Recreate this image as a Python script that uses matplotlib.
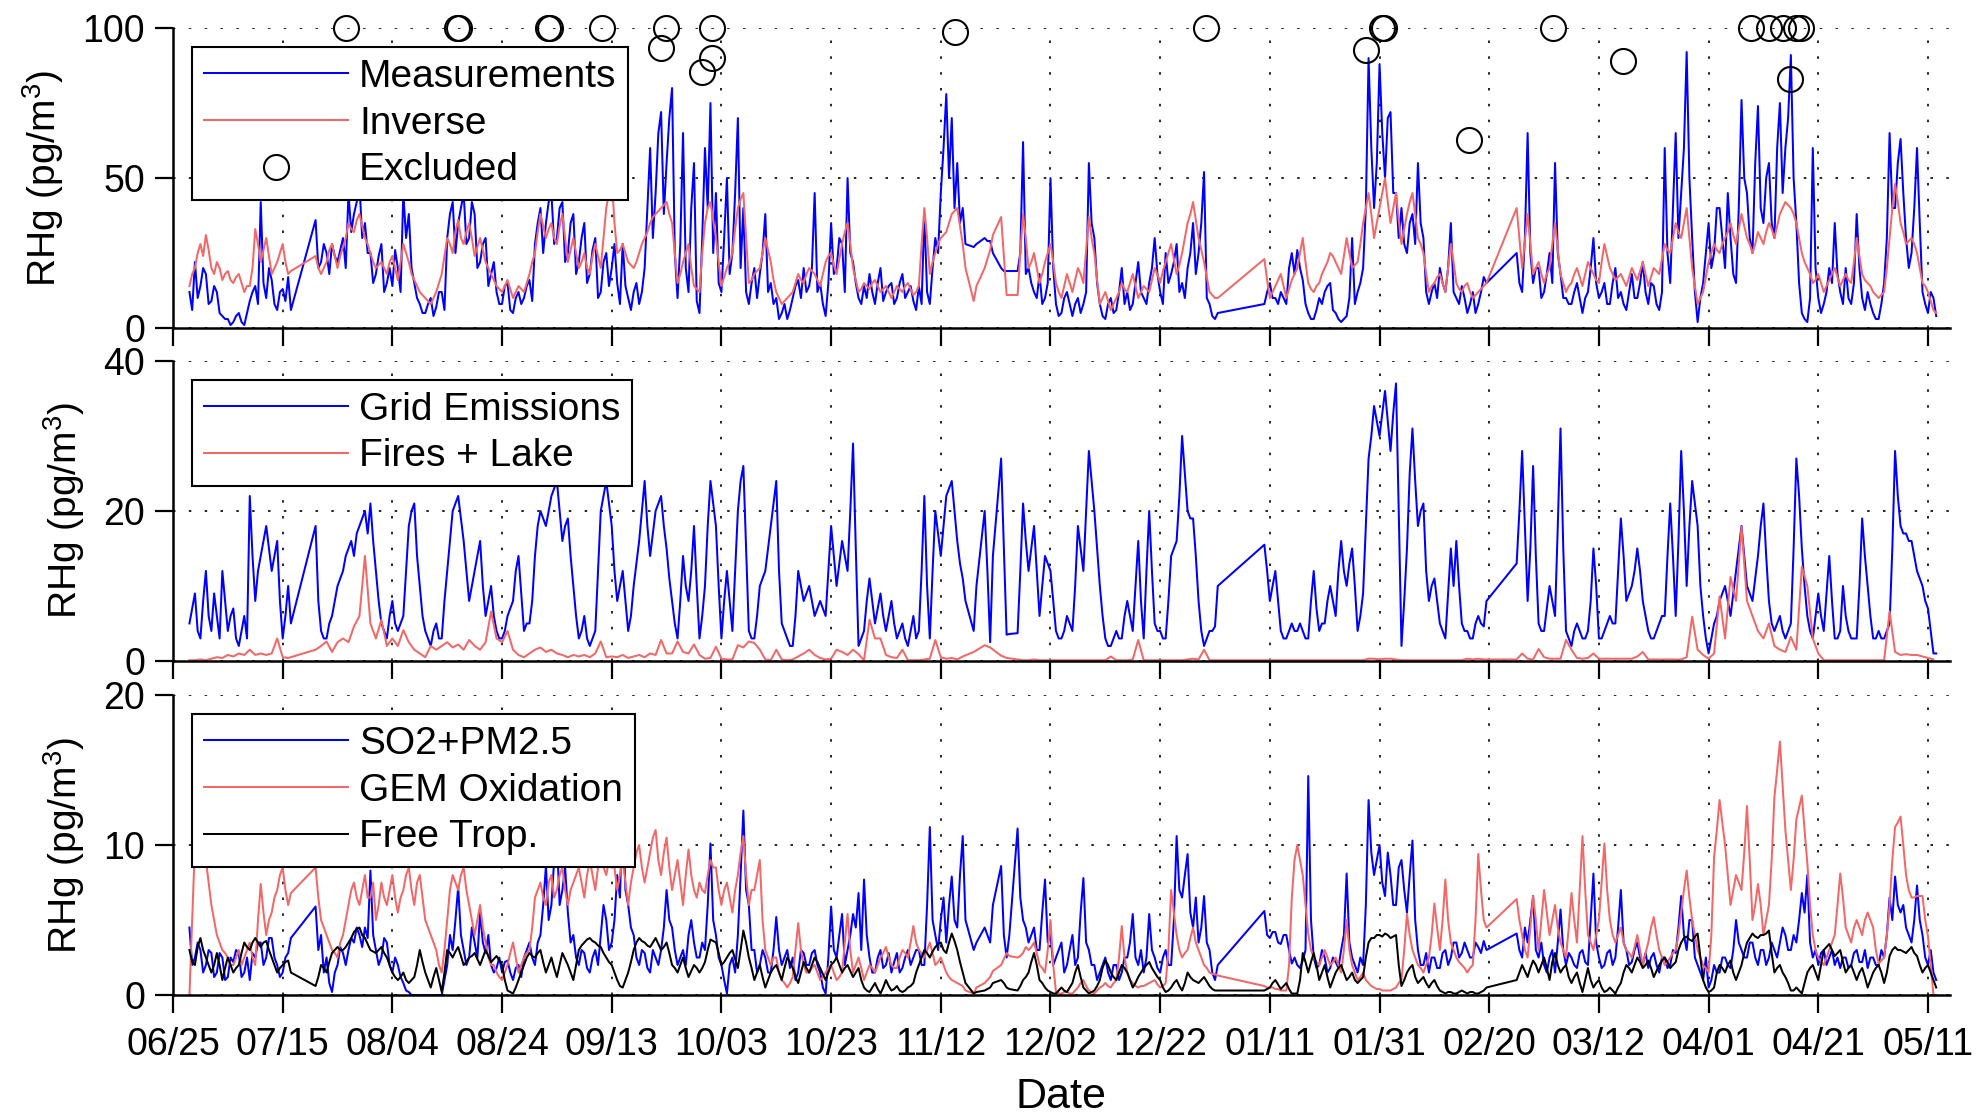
import numpy as np
import pandas as pd
import matplotlib
matplotlib.use("Agg")
import matplotlib.pyplot as plt
import matplotlib.dates as mdates

plt.rcParams["font.family"] = ["Liberation Sans", "DejaVu Sans"]
plt.rcParams["mathtext.fontset"] = "custom"
plt.rcParams["mathtext.rm"] = "Liberation Sans"
plt.rcParams["mathtext.it"] = "Liberation Sans:italic"

START = pd.Timestamp("2012-06-25")

# ----- sample days (days after 06/25), data gaps are left out -----
sparse_days = [146, 148, 149, 151, 152]
sample_days = np.concatenate([
    np.arange(3, 22), np.arange(26, 145), sparse_days,
    np.arange(154, 191), np.arange(199, 240), np.arange(245, 322),
])

# ----- panel 1 (morning / evening readings) -----
measurements = [
    12, 22, 14, 18, 9, 12, 4, 3, 2, 5,          # d3-12
    1, 9, 14, 42, 10, 16, 6, 13, 17,            # d13-21
    36, 22, 25, 28, 22, 30, 45, 38, 48, 35,     # d26-35
    25, 18, 28, 15, 14, 20, 45, 38, 15, 8,      # d36-45
    5, 10, 7, 12, 30, 42, 35, 45, 30, 38,       # d46-55
    22, 30, 18, 12, 8, 15, 5, 12, 10, 16,       # d56-65
    28, 40, 35, 45, 30, 42, 25, 38, 22, 35,     # d66-75
    18, 30, 12, 25, 20, 15, 28, 10, 12, 8,      # d76-85
    20, 60, 45, 72, 55, 80, 10, 65, 12, 55,     # d86-95
    5, 60, 75, 45, 12, 50, 25, 70, 40, 8,       # d96-105
    20, 18, 38, 15, 10, 5, 3, 10, 16, 20,       # d106-115
    14, 45, 15, 4, 35, 20, 28, 50, 22, 10,      # d116-125
    14, 18, 8, 20, 12, 15, 10, 18, 12, 9,       # d126-135
    14, 38, 8, 30, 45, 78, 70, 55, 40,          # d136-144
    27, 30, 29, 20, 19,                         # sparse
    19, 62, 20, 12, 18, 10, 50, 8, 5, 12,       # d154-163
    4, 10, 8, 55, 30, 8, 3, 10, 6, 20,          # d164-173
    12, 8, 22, 10, 15, 30, 12, 25, 18, 28,      # d174-183
    15, 20, 35, 25, 52, 8, 3,                   # d184-190
    8, 15, 10, 12, 8, 25, 26, 16, 5, 3,         # d199-208
    10, 12, 15, 5, 2, 4, 30, 12, 20, 90,        # d209-218
    40, 88, 50, 72, 45, 40, 25, 38, 55, 30,     # d219-228
    8, 15, 20, 12, 35, 10, 14, 5, 12, 8, 17,    # d229-239
    25, 12, 65, 15, 20, 12, 25, 55, 18, 10,     # d245-254
    8, 15, 5, 12, 30, 10, 15, 8, 20, 12,        # d255-264
    6, 18, 10, 22, 8, 14, 6, 60, 15, 65,        # d265-274
    45, 92, 30, 2, 15, 35, 25, 40, 20, 30,      # d275-284
    15, 76, 45, 25, 74, 35, 55, 30, 75, 60,     # d285-294
    91, 35, 5, 2, 60, 10, 8, 20, 35, 12,        # d295-304
    20, 8, 38, 10, 12, 5, 3, 15, 65, 40,        # d305-314
    63, 30, 25, 60, 12, 5, 10,                  # d315-321
]
measurements_pm = [
    6, 10, 20, 8, 14, 5, 3, 1, 4, 2,
    5, 12, 8, 15, 20, 8, 12, 9, 6,
    20, 28, 18, 24, 26, 20, 32, 42, 30, 25,
    15, 24, 12, 20, 26, 12, 30, 20, 10, 5,
    8, 4, 12, 6, 38, 25, 40, 28, 42, 20,
    28, 14, 22, 8, 14, 6, 10, 8, 14, 9,
    35, 25, 42, 28, 40, 22, 35, 18, 30, 15,
    26, 10, 22, 14, 28, 8, 14, 6, 15, 12,
    40, 30, 65, 38, 70, 25, 28, 20, 40, 9,
    30, 40, 25, 15, 30, 18, 45, 20, 12, 15,
    10, 25, 12, 8, 3, 8, 6, 14, 10, 12,
    20, 12, 8, 15, 18, 30, 12, 25, 15, 8,
    10, 12, 15, 9, 14, 8, 15, 10, 14, 6,
    8, 12, 20, 25, 60, 50, 40, 35, 28,
    28, 29, 25, 19, 19,
    25, 18, 15, 10, 8, 15, 20, 4, 10, 8,
    8, 5, 12, 35, 15, 4, 8, 5, 12, 8,
    6, 15, 12, 8, 20, 18, 8, 15, 22, 12,
    10, 25, 18, 35, 10, 4, 5,
    12, 10, 8, 10, 20, 18, 20, 8, 3, 6,
    8, 14, 6, 3, 3, 10, 8, 15, 40, 60,
    55, 65, 70, 45, 30, 28, 35, 28, 35, 12,
    12, 10, 15, 20, 12, 8, 10, 8, 5, 12, 15,
    15, 30, 25, 20, 10, 18, 15, 25, 10, 8,
    12, 10, 10, 20, 15, 12, 8, 15, 10, 8,
    12, 10, 15, 12, 15, 8, 12, 25, 40, 30,
    60, 50, 12, 10, 25, 20, 40, 30, 45, 18,
    40, 50, 30, 55, 40, 50, 35, 60, 45, 70,
    50, 15, 3, 10, 20, 5, 12, 15, 18, 8,
    10, 15, 20, 6, 8, 3, 8, 30, 40, 55,
    45, 20, 40, 35, 8, 12, 4,
]
inverse = [
    14, 20, 28, 31, 20, 22, 16, 19, 15, 18,
    12, 14, 33, 22, 30, 18, 22, 28, 18,
    24, 18, 22, 28, 20, 27, 35, 32, 38, 30,
    25, 20, 22, 18, 24, 16, 28, 22, 16, 12,
    10, 8, 12, 18, 30, 25, 36, 28, 35, 24,
    30, 22, 18, 14, 12, 16, 10, 14, 12, 18,
    25, 38, 30, 35, 28, 38, 22, 30, 20, 25,
    18, 28, 20, 40, 50, 25, 28, 22, 20, 25,
    30, 35, 38, 40, 42, 35, 15, 22, 28, 14,
    12, 35, 42, 30, 14, 20, 25, 40, 45, 15,
    18, 20, 30, 22, 12, 8, 10, 12, 18, 15,
    20, 18, 14, 22, 25, 18, 28, 35, 20, 12,
    15, 13, 16, 12, 14, 10, 14, 12, 15, 11,
    14, 40, 18, 25, 30, 32, 38, 40, 28,
    9, 20, 26, 37, 11,
    11, 38, 20, 25, 15, 22, 28, 15, 10, 18,
    12, 20, 15, 37, 25, 8, 12, 6, 10, 15,
    12, 18, 10, 14, 12, 20, 15, 22, 28, 18,
    25, 35, 42, 30, 22, 12, 10,
    23, 10, 14, 18, 10, 16, 20, 30, 15, 12,
    15, 20, 25, 22, 18, 30, 20, 22, 35, 45,
    30, 40, 50, 35, 45, 28, 38, 45, 30, 25,
    12, 15, 18, 12, 28, 15, 12, 15, 10, 12, 14,
    40, 20, 38, 18, 22, 15, 20, 35, 18, 12,
    15, 20, 14, 22, 18, 15, 28, 20, 16, 18,
    14, 20, 16, 22, 14, 20, 18, 28, 25, 35,
    30, 40, 20, 8, 12, 22, 28, 25, 30, 35,
    28, 38, 30, 25, 32, 28, 35, 30, 38, 42,
    40, 35, 25, 20, 15, 18, 12, 16, 20, 14,
    18, 15, 30, 18, 15, 12, 10, 12, 30, 48,
    35, 28, 30, 25, 15, 12, 6,
]
inverse_pm = [
    18, 25, 24, 26, 18, 20, 18, 16, 17, 15,
    14, 20, 28, 26, 24, 20, 25, 22, 19,
    20, 20, 26, 24, 24, 30, 33, 36, 34, 28,
    22, 21, 20, 22, 20, 22, 25, 18, 14, 11,
    9, 10, 15, 24, 28, 32, 30, 32, 30, 27,
    26, 20, 16, 13, 14, 13, 12, 13, 15, 22,
    32, 34, 33, 30, 34, 30, 26, 25, 22, 20,
    24, 24, 30, 45, 35, 26, 25, 21, 22, 28,
    32, 37, 39, 41, 38, 25, 18, 25, 20, 13,
    25, 40, 36, 22, 17, 22, 33, 43, 30, 16,
    19, 25, 26, 16, 10, 9, 11, 15, 16, 18,
    19, 16, 18, 24, 21, 23, 32, 28, 16, 13,
    14, 15, 14, 13, 12, 12, 13, 14, 13, 12,
    28, 30, 22, 28, 31, 35, 39, 34, 20,
    14, 23, 31, 24, 11,
    25, 30, 22, 20, 18, 25, 22, 12, 14, 15,
    16, 18, 26, 30, 16, 10, 9, 8, 12, 13,
    15, 14, 12, 13, 16, 18, 19, 25, 23, 21,
    30, 38, 36, 26, 17, 11, 10,
    16, 12, 16, 14, 13, 18, 25, 22, 13, 14,
    18, 22, 24, 20, 24, 25, 21, 28, 40, 38,
    35, 45, 42, 40, 36, 33, 42, 38, 28, 18,
    14, 17, 15, 20, 22, 13, 14, 12, 11, 13, 15,
    30, 29, 28, 20, 18, 18, 28, 26, 15, 14,
    18, 17, 18, 20, 16, 22, 24, 18, 17, 16,
    17, 18, 19, 18, 17, 19, 23, 26, 30, 32,
    35, 30, 14, 10, 17, 25, 26, 28, 32, 31,
    33, 34, 28, 28, 30, 32, 33, 34, 40, 41,
    38, 30, 22, 18, 16, 15, 14, 18, 17, 16,
    16, 22, 24, 16, 14, 11, 11, 20, 40, 42,
    32, 29, 28, 20, 14, 9, 5,
]
excluded_day = [31.5, 51.7, 52.2, 68.3, 68.8, 78.3, 78.6, 88.9, 89.9, 96.5,
                98.3, 98.3, 142.5, 188.4, 217.6, 220.5, 220.8, 236.4, 251.7,
                264.4, 287.8, 291.1, 293.6, 295.9, 296.8, 294.9]
excluded_val = [100, 100, 100, 100, 100, 100, 88.8, 93.2, 100, 85.4,
                90.0, 100, 98.8, 100, 92.7, 100, 100, 62.7, 100,
                89.0, 100, 100, 100, 100, 100, 83.0]

# ----- panel 2 -----
grid_emissions = [
    5, 9, 3, 12, 4, 6, 12, 4, 7, 2,
    6, 22, 8, 14, 18, 12, 16, 3, 10,
    18, 4, 3, 6, 10, 12, 15, 14, 18, 20,
    21, 12, 5, 3, 8, 4, 6, 18, 21, 10,
    4, 2, 5, 3, 12, 20, 22, 16, 8, 12,
    16, 6, 10, 4, 3, 6, 8, 14, 4, 5,
    14, 20, 18, 22, 24, 16, 19, 10, 3, 6,
    2, 4, 20, 24, 18, 8, 12, 4, 10, 16,
    24, 14, 20, 22, 15, 8, 3, 14, 8, 18,
    3, 10, 24, 18, 3, 12, 4, 20, 26, 4,
    3, 10, 12, 18, 24, 5, 3, 2, 12, 8,
    10, 6, 8, 6, 18, 10, 16, 12, 29, 2,
    4, 11, 5, 9, 4, 8, 3, 5, 2, 6,
    4, 22, 3, 20, 14, 22, 24, 16, 11,
    4, 20, 2.5, 27, 3.5,
    3.7, 21, 12, 18, 6, 14, 12, 4, 3, 6,
    4, 18, 12, 28, 20, 10, 3, 2, 4, 3,
    8, 4, 16, 3, 20, 5, 4, 3, 14, 16,
    30, 20, 19, 8, 2, 4, 4.6,
    15.5, 8, 12, 4, 3, 5, 4, 4, 3, 12,
    4, 5, 10, 6, 16, 10, 15, 4, 9, 27,
    34, 30, 36, 28, 37, 2, 15, 31, 18, 21,
    8, 11, 5, 3, 15, 16, 5, 4, 3, 6, 4.6,
    13, 28, 8, 26, 5, 4, 10, 6, 31, 4,
    2, 5, 3, 4, 15, 3, 4, 6, 5, 19,
    8, 10, 15, 8, 4, 3, 5, 6, 21, 6,
    28, 10, 24, 18, 6, 1, 5, 8, 10, 6,
    12, 18, 10, 8, 14, 21, 8, 4, 6, 3,
    5, 27, 15, 6, 3, 9, 4, 14, 3, 4,
    6, 3, 3, 19, 10, 3, 4, 3, 5, 28,
    18, 17, 16, 12, 10, 7, 1,
]
grid_emissions_pm = [
    7, 4, 8, 6, 9, 3, 8, 6, 3, 4,
    3, 14, 12, 16, 15, 14, 8, 6, 5,
    8, 3, 5, 8, 11, 14, 16, 17, 19, 17,
    16, 8, 4, 6, 5, 5, 12, 20, 14, 6,
    3, 4, 3, 8, 16, 21, 19, 12, 10, 14,
    10, 8, 6, 3, 4, 7, 12, 9, 5, 8,
    18, 19, 20, 23, 20, 18, 14, 6, 4, 3,
    3, 12, 22, 21, 12, 10, 8, 6, 13, 20,
    18, 17, 21, 18, 11, 5, 8, 10, 12, 10,
    6, 18, 21, 10, 8, 8, 12, 24, 15, 3,
    6, 11, 15, 21, 12, 4, 2, 6, 10, 9,
    8, 7, 7, 12, 14, 13, 14, 20, 15, 3,
    8, 8, 7, 6, 6, 5, 4, 3, 4, 3,
    12, 10, 12, 17, 18, 23, 20, 13, 8,
    10, 12, 14, 15, 3.6,
    12, 16, 15, 12, 10, 13, 8, 3, 4, 5,
    10, 15, 20, 24, 15, 6, 2, 3, 3, 6,
    6, 10, 8, 12, 12, 4, 3, 8, 15, 22,
    25, 19, 14, 4, 3, 4, 10,
    12, 10, 8, 3, 4, 4, 5, 3, 8, 7,
    5, 8, 8, 12, 12, 13, 10, 6, 18, 30,
    32, 33, 32, 33, 20, 8, 25, 24, 20, 12,
    10, 8, 4, 9, 10, 10, 4, 3, 5, 5, 8,
    20, 18, 15, 14, 4, 7, 8, 18, 15, 3,
    4, 4, 3, 8, 10, 3, 5, 5, 12, 14,
    9, 12, 12, 6, 3, 4, 6, 14, 14, 16,
    20, 18, 21, 10, 3, 3, 6, 9, 8, 9,
    15, 14, 9, 11, 18, 14, 5, 5, 4, 4,
    15, 22, 10, 4, 6, 6, 9, 8, 3, 10,
    4, 3, 10, 14, 6, 3, 3, 4, 15, 22,
    17, 16, 14, 11, 8, 4, 1,
]
fires_lake = [
    0.1, 0.1, 0.2, 0.1, 0.3, 0.5, 0.4, 0.8, 0.6, 1.0,
    0.8, 1.5, 0.8, 1.0, 0.8, 1.0, 3.0, 0.5, 0.4,
    1.5, 2.0, 2.6, 1.2, 2.5, 3.0, 2.5, 4.6, 6.0, 14.0,
    5.0, 3.0, 5.5, 2.0, 3.0, 2.0, 4.1, 2.5, 1.5, 1.0,
    0.5, 2.0, 1.5, 2.0, 2.5, 1.8, 2.2, 1.5, 2.8, 2.0,
    1.5, 2.5, 6.6, 3.0, 2.5, 4.0, 1.5, 0.8, 0.5, 1.0,
    1.5, 1.8, 1.2, 1.5, 1.0, 0.8, 0.5, 0.8, 0.6, 0.8,
    0.5, 1.0, 2.6, 0.5, 0.6, 0.5, 0.8, 0.4, 0.6, 0.8,
    0.5, 1.0, 0.8, 2.8, 1.0, 1.0, 2.6, 1.2, 1.0, 2.2,
    0.8, 0.3, 0.4, 1.9, 0.3, 0.2, 0.2, 2.1, 1.8, 2.6,
    2.4, 1.5, 0.2, 0.1, 1.5, 0.2, 0.1, 0.2, 0.6, 1.0,
    1.5, 0.8, 0.4, 0.2, 0.3, 1.5, 1.2, 0.8, 1.5, 0.9,
    0.1, 5.5, 3.0, 3.0, 0.8, 0.5, 0.4, 1.5, 0.1, 0.1,
    0.1, 0.2, 0.3, 2.8, 0.5, 0.3, 0.4, 0.2, 0.6,
    1.2, 2.1, 1.8, 0.7, 0.4,
    0.2, 0.1, 0.1, 0.2, 0.1, 0.1, 0.1, 0.1, 0.1, 0.1,
    0.1, 0.1, 0.1, 0.1, 0.1, 0.1, 0.1, 0.6, 0.1, 0.1,
    0.1, 0.2, 2.8, 0.1, 0.1, 0.1, 0.1, 0.1, 0.1, 0.1,
    0.1, 0.2, 0.3, 0.2, 1.5, 0.1, 0.1,
    0.1, 0.1, 0.1, 0.1, 0.1, 0.1, 0.1, 0.1, 0.1, 0.1,
    0.1, 0.1, 0.1, 0.1, 0.1, 0.1, 0.1, 0.1, 0.1, 0.3,
    0.3, 0.2, 0.3, 0.3, 0.2, 0.1, 0.1, 0.1, 0.1, 0.1,
    0.1, 0.1, 0.1, 0.1, 0.1, 0.1, 0.1, 0.3, 0.2, 0.3, 0.2,
    0.2, 1.0, 0.3, 0.2, 1.6, 0.5, 0.3, 0.3, 0.3, 2.8,
    1.5, 0.4, 0.3, 0.4, 1.0, 0.3, 0.3, 0.3, 0.3, 0.3,
    0.3, 0.3, 0.6, 1.2, 0.2, 0.2, 0.2, 0.2, 0.2, 0.2,
    0.2, 0.5, 5.9, 1.5, 0.8, 0.3, 1.0, 8.6, 3.0, 11.2,
    8.0, 17.9, 8.0, 6.0, 4.0, 3.0, 5.0, 2.0, 1.5, 1.2,
    3.2, 1.5, 12.6, 10.0, 3.0, 1.0, 0.1, 0.1, 0.1, 0.1,
    0.1, 0.1, 0.1, 0.1, 0.1, 0.1, 0.1, 0.1, 6.6, 1.2,
    0.8, 0.9, 0.8, 0.8, 0.6, 0.4, 0.2,
]

# ----- panel 3 -----
so2_pm25 = [
    4.5, 2.5, 3.0, 2.0, 2.8, 1.5, 2.5, 1.2, 2.2, 2.8,
    1.5, 1.0, 2.5, 3.5, 2.5, 3.8, 2.0, 1.5, 2.8,
    5.9, 4.0, 2.5, 0.2, 2.0, 2.8, 3.0, 3.5, 4.0, 4.5,
    8.3, 3.0, 2.5, 3.5, 1.5, 2.0, 0.8, 0.2, 0.0, 0.0,
    0.0, 0.0, 0.0, 0.0, 2.0, 3.0, 7.2, 3.0, 2.5, 3.5,
    5.5, 2.8, 2.0, 1.8, 1.5, 2.3, 1.0, 2.0, 2.5, 3.5,
    2.0, 4.0, 8.6, 6.0, 10.5, 7.0, 5.5, 4.0, 2.0, 2.8,
    1.5, 3.0, 4.0, 5.0, 3.5, 8.0, 12.8, 6.0, 4.0, 2.0,
    2.8, 1.5, 2.5, 3.0, 7.0, 4.5, 2.0, 3.0, 4.0, 3.5,
    2.5, 3.0, 10.1, 4.0, 2.0, 0.1, 2.5, 4.0, 12.3, 6.0,
    3.0, 2.0, 2.5, 1.5, 5.2, 2.0, 3.0, 2.5, 1.5, 2.8,
    2.0, 3.0, 1.5, 0.1, 5.9, 2.5, 5.4, 3.0, 5.4, 6.8,
    7.7, 2.5, 1.5, 3.0, 2.0, 1.5, 2.8, 1.8, 3.0, 2.5,
    3.0, 2.0, 11.2, 4.0, 5.0, 3.5, 7.9, 4.5, 10.6,
    3.0, 4.5, 3.5, 8.6, 2.5,
    11.1, 5.0, 3.5, 4.5, 3.0, 7.7, 4.0, 2.5, 3.5, 2.0,
    4.0, 2.5, 7.8, 3.0, 2.0, 1.5, 2.5, 1.0, 2.0, 1.5,
    2.5, 5.4, 2.0, 1.5, 5.4, 2.5, 1.5, 3.0, 2.0, 10.6,
    6.5, 9.4, 4.5, 3.5, 6.6, 3.0, 1.0,
    5.6, 3.8, 4.2, 3.4, 4.0, 2.1, 2.0, 2.3, 14.6, 2.5,
    2.0, 2.5, 1.8, 2.2, 3.0, 8.1, 2.5, 1.5, 2.0, 13.0,
    8.0, 10.0, 6.6, 8.0, 6.0, 9.0, 5.5, 10.3, 3.0, 2.0,
    1.5, 2.5, 1.8, 3.0, 2.5, 3.5, 2.8, 3.0, 2.5, 3.2, 3.6,
    4.1, 2.5, 3.5, 6.6, 2.5, 2.0, 2.5, 1.5, 5.7, 2.0,
    2.5, 1.8, 3.0, 2.0, 8.1, 2.5, 2.0, 3.0, 2.5, 7.0,
    3.0, 2.2, 3.5, 2.0, 1.8, 2.8, 1.5, 2.5, 2.0, 2.8,
    6.6, 3.0, 5.0, 2.0, 1.0, 0.5, 2.0, 1.5, 2.5, 1.8,
    5.0, 3.0, 2.5, 3.5, 2.0, 3.0, 2.5, 3.0, 3.5, 4.0,
    3.0, 3.5, 6.8, 8.0, 2.5, 2.0, 3.0, 2.5, 2.0, 1.8,
    2.5, 2.0, 3.0, 2.2, 1.8, 2.5, 2.0, 2.5, 6.5, 7.9,
    5.5, 4.5, 3.5, 7.3, 4.0, 2.0, 1.5,
]
so2_pm25_pm = [
    2.0, 3.5, 1.5, 3.0, 1.2, 2.8, 1.0, 2.5, 3.0, 1.2,
    2.5, 2.8, 3.5, 2.0, 3.8, 2.5, 1.2, 2.5, 3.8,
    3.0, 1.5, 0.8, 1.5, 3.2, 2.0, 3.8, 4.5, 3.2, 3.8,
    4.0, 2.0, 3.8, 2.0, 2.5, 1.2, 0.3, 0.0, 0.0, 0.0,
    0.0, 0.0, 0.0, 1.0, 4.0, 5.0, 4.0, 2.0, 4.5, 2.5,
    3.5, 4.0, 1.5, 2.5, 2.2, 1.5, 1.8, 1.2, 3.0, 2.5,
    3.5, 6.0, 5.0, 9.0, 6.0, 8.5, 3.5, 2.5, 3.0, 1.8,
    2.5, 2.0, 6.0, 3.0, 5.0, 6.5, 7.0, 4.5, 2.5, 3.0,
    1.8, 3.0, 2.0, 4.5, 5.0, 3.0, 2.5, 2.0, 5.0, 2.5,
    3.5, 6.0, 5.0, 2.5, 1.0, 2.0, 1.5, 8.0, 7.0, 3.0,
    1.5, 3.0, 1.5, 3.0, 3.0, 2.5, 1.8, 1.0, 3.0, 2.0,
    2.8, 2.0, 0.5, 2.5, 3.0, 4.0, 2.0, 4.0, 4.5, 3.0,
    4.0, 1.5, 2.5, 1.8, 2.8, 2.2, 1.5, 2.5, 2.0, 3.0,
    2.0, 6.0, 5.0, 3.0, 6.5, 6.0, 5.0, 8.0, 5.0,
    3.5, 4.0, 6.0, 4.0, 4.0,
    6.5, 4.5, 4.0, 3.0, 5.5, 3.5, 2.0, 3.0, 1.5, 3.0,
    2.0, 5.5, 3.5, 2.0, 1.0, 2.0, 1.5, 2.0, 1.0, 2.5,
    3.5, 2.5, 3.0, 2.5, 3.0, 1.8, 2.5, 2.0, 5.0, 7.0,
    8.0, 5.5, 6.5, 4.5, 3.5, 1.5, 2.0,
    4.0, 4.2, 3.5, 4.0, 3.0, 2.5, 1.8, 3.0, 5.0, 1.8,
    3.0, 1.5, 2.5, 1.8, 4.0, 3.5, 2.0, 2.5, 6.0, 9.5,
    9.0, 7.5, 9.5, 6.0, 8.5, 7.0, 8.0, 5.0, 2.0, 2.8,
    2.5, 1.8, 2.8, 2.0, 3.5, 2.5, 3.5, 2.5, 3.5, 2.8, 3.0,
    3.0, 4.5, 5.0, 3.0, 3.5, 1.5, 3.0, 3.5, 3.0, 2.8,
    2.0, 2.8, 2.2, 5.0, 3.5, 1.8, 2.8, 2.0, 4.5, 3.5,
    2.0, 3.0, 2.5, 2.8, 2.5, 2.0, 2.5, 1.8, 3.0, 4.5,
    4.0, 5.0, 2.5, 1.5, 2.5, 1.0, 1.5, 2.5, 2.0, 3.0,
    3.5, 2.5, 3.5, 2.5, 3.0, 2.0, 3.5, 2.5, 4.5, 3.0,
    4.0, 5.0, 5.5, 3.5, 3.0, 2.8, 2.0, 3.0, 2.5, 2.5,
    1.8, 2.8, 2.2, 3.0, 2.5, 2.0, 3.0, 4.0, 5.0, 6.0,
    6.0, 4.0, 5.0, 5.0, 2.5, 3.0, 1.0,
]
gem_oxidation = [
    0.0, 10.0, 12.0, 9.0, 6.0, 4.0, 3.0, 2.5, 2.0, 3.0,
    2.5, 3.5, 2.0, 7.4, 4.0, 5.5, 7.0, 8.5, 6.0,
    8.5, 5.0, 4.0, 3.0, 2.5, 4.0, 6.0, 7.5, 6.0, 8.0,
    6.5, 5.0, 7.5, 6.0, 8.0, 5.5, 7.0, 8.5, 6.0, 8.0,
    5.0, 4.0, 3.0, 1.5, 5.0, 8.0, 7.0, 8.5, 6.0, 4.0,
    6.0, 3.5, 2.0, 1.5, 1.0, 2.0, 3.5, 1.5, 2.5, 3.0,
    6.5, 7.5, 6.0, 8.0, 7.0, 8.5, 6.0, 7.5, 8.5, 6.5,
    9.0, 7.0, 9.5, 8.0, 10.0, 7.0, 9.0, 6.0, 8.5, 10.0,
    7.5, 9.5, 11.0, 8.0, 10.5, 7.0, 9.0, 6.0, 9.7, 7.0,
    7.5, 6.8, 9.0, 8.5, 6.0, 7.5, 5.5, 8.0, 10.6, 6.0,
    7.0, 9.0, 3.0, 2.0, 2.5, 1.0, 0.5, 1.2, 4.8, 2.0,
    1.5, 2.0, 1.0, 1.5, 2.0, 1.0, 1.5, 5.4, 1.5, 2.5,
    1.0, 2.0, 1.5, 2.5, 3.2, 2.0, 1.8, 3.0, 2.5, 4.6,
    3.0, 2.5, 3.5, 2.0, 2.5, 1.5, 1.0, 0.8, 0.6,
    0.1, 0.8, 1.2, 2.0, 2.8,
    2.5, 2.8, 3.0, 3.5, 2.0, 1.5, 5.0, 0.2, 0.1, 0.2,
    0.1, 0.5, 1.0, 0.3, 0.1, 0.5, 0.8, 0.5, 1.0, 4.6,
    1.5, 0.8, 0.5, 0.6, 0.8, 1.0, 0.5, 0.8, 7.0, 4.0,
    2.5, 3.0, 4.5, 3.0, 2.0, 1.5, 1.4,
    0.6, 0.5, 0.4, 0.3, 0.3, 6.5, 10.0, 8.0, 4.1, 2.5,
    2.0, 3.0, 2.0, 2.5, 1.5, 5.0, 2.0, 1.0, 1.5, 0.8,
    0.5, 0.4, 0.3, 0.3, 0.5, 1.0, 5.4, 3.0, 2.0, 1.5,
    2.5, 6.1, 3.0, 7.7, 3.5, 2.5, 2.0, 1.5, 2.0, 9.4, 5.0,
    6.4, 4.0, 2.5, 6.6, 3.0, 7.0, 4.0, 6.0, 3.5, 2.5,
    6.8, 3.5, 10.6, 4.0, 3.0, 5.0, 10.1, 5.0, 3.5, 4.5,
    3.0, 2.5, 4.0, 2.0, 3.5, 5.2, 3.0, 2.0, 2.5, 3.0,
    5.5, 8.3, 5.0, 3.0, 2.0, 1.5, 9.2, 13.0, 10.0, 6.0,
    8.0, 7.0, 12.6, 5.0, 7.4, 4.0, 6.0, 13.2, 16.9, 11.0,
    7.0, 11.7, 13.3, 8.8, 4.0, 2.5, 2.0, 3.0, 4.0, 8.1,
    4.5, 3.5, 5.0, 4.0, 5.5, 4.5, 2.1, 2.5, 6.0, 11.2,
    11.9, 8.0, 6.5, 6.6, 6.6, 3.9, 0.0,
]
gem_oxidation_pm = [
    5.0, 11.0, 10.0, 7.5, 5.0, 3.5, 2.8, 2.0, 2.5, 2.0,
    3.0, 2.5, 5.0, 5.5, 5.0, 6.5, 8.0, 7.0, 6.8,
    6.5, 4.5, 3.5, 2.8, 3.5, 5.0, 7.0, 6.5, 7.0, 6.5,
    7.5, 6.0, 6.5, 7.0, 6.5, 6.5, 8.0, 7.0, 7.5, 6.5,
    4.5, 3.5, 2.0, 3.0, 7.0, 7.5, 8.0, 7.0, 5.0, 5.0,
    4.5, 2.5, 2.0, 1.2, 1.5, 2.8, 2.5, 2.0, 2.8, 4.5,
    7.0, 6.5, 7.5, 6.5, 8.0, 7.0, 7.0, 8.0, 7.5, 8.0,
    8.0, 8.5, 8.5, 9.0, 8.5, 8.0, 7.5, 7.5, 9.5, 8.5,
    8.5, 10.5, 9.0, 9.5, 8.5, 8.0, 7.5, 8.0, 8.0, 6.5,
    7.0, 8.0, 8.5, 7.0, 7.0, 6.5, 7.0, 9.5, 8.0, 7.0,
    8.0, 5.0, 2.5, 2.5, 1.5, 0.8, 0.8, 3.0, 3.0, 1.5,
    1.8, 1.5, 1.2, 1.8, 1.5, 1.2, 3.5, 3.0, 2.0, 1.8,
    1.5, 1.8, 2.0, 2.8, 2.5, 1.8, 2.5, 2.8, 3.5, 3.5,
    2.8, 3.0, 2.8, 2.2, 2.0, 1.2, 0.9, 0.7, 0.3,
    0.5, 1.0, 1.6, 2.4, 2.6,
    2.6, 3.2, 3.2, 2.8, 1.8, 3.0, 2.0, 0.1, 0.2, 0.1,
    0.3, 0.8, 0.6, 0.2, 0.3, 0.6, 0.6, 0.8, 2.5, 2.5,
    1.0, 0.6, 0.6, 0.7, 0.9, 0.7, 0.6, 3.0, 5.5, 3.0,
    2.8, 3.8, 3.5, 2.5, 1.8, 1.4, 1.3,
    0.5, 0.5, 0.4, 0.3, 2.0, 9.0, 9.0, 6.0, 3.0, 2.2,
    2.5, 2.5, 2.2, 2.0, 3.0, 3.0, 1.5, 1.2, 1.0, 0.6,
    0.4, 0.3, 0.3, 0.4, 0.8, 3.0, 4.0, 2.5, 1.8, 2.0,
    4.0, 4.5, 5.0, 5.0, 3.0, 2.2, 1.8, 1.8, 5.0, 7.0, 4.5,
    5.0, 3.0, 4.5, 5.0, 5.0, 5.5, 5.0, 4.5, 3.0, 4.5,
    5.0, 7.0, 7.0, 3.5, 4.0, 7.5, 7.0, 4.0, 4.0, 3.5,
    2.8, 3.2, 3.0, 2.8, 4.5, 4.0, 2.5, 2.2, 2.8, 4.0,
    7.0, 6.5, 4.0, 2.5, 1.8, 4.0, 11.0, 11.5, 8.0, 7.0,
    7.5, 9.5, 9.0, 6.0, 6.0, 5.0, 9.0, 15.0, 14.0, 9.0,
    9.0, 12.5, 11.0, 6.0, 3.0, 2.2, 2.5, 3.5, 6.0, 6.5,
    4.0, 4.5, 4.5, 5.0, 5.0, 3.0, 2.3, 4.0, 9.0, 11.5,
    10.0, 7.0, 6.5, 6.6, 5.0, 2.0, 0.0,
]
free_trop = [
    3.0, 2.0, 3.8, 2.5, 1.5, 2.8, 1.0, 2.5, 1.5, 2.0,
    3.5, 3.0, 3.8, 3.2, 3.6, 2.5, 1.5, 2.0, 2.3,
    0.6, 2.0, 1.5, 2.8, 3.2, 3.0, 3.5, 4.2, 4.5, 3.8,
    3.0, 2.8, 3.2, 2.5, 1.5, 1.0, 1.5, 0.8, 1.2, 3.0,
    1.5, 0.5, 1.8, 0.2, 3.0, 2.5, 3.2, 2.0, 2.5, 2.8,
    2.0, 3.0, 2.2, 2.6, 2.0, 0.3, 0.1, 1.0, 2.0, 2.8,
    2.5, 3.0, 1.5, 2.5, 1.2, 2.8, 2.0, 1.0, 3.0, 3.5,
    3.8, 3.5, 3.2, 2.5, 2.0, 1.0, 0.5, 1.5, 3.0, 3.8,
    3.5, 3.2, 3.8, 3.0, 3.5, 2.0, 1.5, 2.5, 1.2, 2.0,
    1.5, 2.2, 3.7, 3.5, 2.0, 2.5, 3.0, 1.8, 4.3, 2.5,
    1.0, 2.0, 0.5, 1.5, 2.0, 1.0, 2.5, 1.8, 0.8, 2.2,
    1.5, 2.5, 1.8, 1.0, 2.0, 2.5, 1.5, 2.0, 1.2, 1.8,
    0.5, 0.2, 0.8, 0.1, 1.0, 0.3, 0.6, 0.2, 0.5, 0.8,
    2.0, 3.0, 2.5, 3.2, 3.5, 2.8, 4.1, 3.0, 1.5,
    0.1, 0.3, 0.5, 1.0, 0.5,
    0.3, 1.0, 1.5, 2.8, 1.0, 0.5, 0.2, 0.1, 0.5, 0.2,
    0.8, 2.0, 0.5, 0.1, 0.3, 1.0, 2.3, 1.5, 1.0, 2.0,
    1.5, 0.5, 1.2, 1.8, 2.2, 1.5, 1.0, 0.2, 0.5, 1.0,
    0.3, 1.5, 1.0, 0.8, 1.2, 0.6, 0.3,
    0.3, 0.5, 1.0, 0.4, 0.8, 0.1, 0.1, 2.8, 1.5, 2.8,
    1.0, 2.0, 0.5, 1.5, 2.0, 1.0, 1.5, 0.8, 1.2, 3.5,
    3.8, 4.0, 4.1, 3.8, 4.0, 0.6, 1.5, 2.0, 0.8, 1.2,
    0.5, 1.0, 0.3, 0.1, 0.2, 0.1, 0.3, 0.1, 0.2, 0.1, 0.3,
    1.0, 2.0, 1.2, 2.3, 1.5, 2.5, 1.0, 2.8, 1.5, 2.0,
    0.8, 1.5, 0.2, 1.8, 0.5, 1.0, 0.2, 0.5, 0.1, 0.8,
    2.0, 1.5, 2.5, 1.8, 2.3, 1.2, 2.0, 2.5, 1.8, 2.2,
    3.5, 3.9, 3.6, 4.1, 1.0, 0.2, 0.5, 2.0, 1.5, 2.3,
    1.0, 2.0, 3.5, 4.1, 3.8, 4.0, 4.3, 1.5, 2.0, 1.2,
    0.3, 0.5, 0.1, 1.5, 2.0, 1.0, 3.0, 3.4, 2.6, 3.0,
    1.5, 2.0, 1.0, 1.8, 0.5, 1.5, 2.0, 0.8, 2.6, 3.2,
    3.0, 2.8, 3.2, 2.6, 1.5, 2.0, 1.0,
]
free_trop_pm = [
    2.2, 3.2, 3.0, 2.0, 2.0, 2.0, 1.8, 2.0, 1.8, 2.8,
    3.2, 3.5, 3.5, 3.5, 3.0, 2.0, 1.8, 2.2, 1.5,
    1.2, 1.8, 2.2, 3.0, 3.0, 3.2, 3.8, 4.4, 4.0, 3.4,
    2.9, 3.0, 2.8, 2.0, 1.2, 1.2, 1.0, 1.0, 2.0, 2.2,
    1.0, 1.2, 1.0, 1.5, 2.8, 2.9, 2.6, 2.2, 2.6, 2.4,
    2.5, 2.6, 2.4, 2.3, 1.0, 0.2, 0.5, 1.5, 2.5, 2.6,
    2.8, 2.2, 2.0, 1.8, 2.0, 2.4, 1.5, 2.0, 3.3, 3.7,
    3.6, 3.3, 2.8, 2.2, 1.5, 0.6, 1.0, 2.2, 3.5, 3.6,
    3.3, 3.5, 3.4, 3.2, 2.8, 1.8, 2.0, 1.8, 1.6, 1.8,
    1.8, 3.0, 3.6, 2.8, 2.2, 2.8, 2.4, 3.0, 3.5, 1.8,
    1.5, 1.2, 1.0, 1.8, 1.5, 1.8, 2.2, 1.2, 1.5, 1.8,
    2.0, 2.2, 1.4, 1.5, 2.2, 2.0, 1.8, 1.6, 1.5, 1.0,
    0.3, 0.5, 0.4, 0.5, 0.6, 0.4, 0.3, 0.3, 0.6, 1.5,
    2.5, 2.8, 2.9, 3.4, 3.0, 3.5, 3.6, 2.2, 0.8,
    0.2, 0.4, 0.8, 0.8, 0.4,
    0.6, 1.2, 2.2, 2.0, 0.8, 0.3, 0.1, 0.3, 0.3, 0.5,
    1.5, 1.2, 0.3, 0.2, 0.6, 1.8, 2.0, 1.2, 1.5, 1.8,
    1.0, 0.8, 1.5, 2.0, 1.8, 1.2, 0.5, 0.3, 0.8, 0.6,
    0.8, 1.2, 0.9, 1.0, 0.9, 0.4, 0.3,
    0.4, 0.8, 0.7, 0.6, 0.4, 0.1, 1.0, 2.2, 2.2, 2.0,
    1.5, 1.2, 1.0, 1.8, 1.5, 1.2, 1.0, 1.0, 2.5, 3.8,
    4.0, 3.9, 4.0, 3.9, 2.0, 1.0, 1.8, 1.2, 1.0, 0.8,
    0.8, 0.6, 0.2, 0.2, 0.1, 0.2, 0.2, 0.2, 0.1, 0.2, 0.5,
    1.5, 1.6, 1.8, 2.0, 2.0, 1.8, 2.2, 2.0, 1.8, 1.2,
    1.2, 0.8, 1.0, 1.0, 0.8, 0.5, 0.3, 0.3, 0.5, 1.5,
    1.8, 2.0, 2.2, 2.0, 1.8, 1.6, 2.3, 2.2, 2.0, 3.0,
    3.8, 3.7, 3.9, 2.5, 0.5, 0.3, 1.5, 1.8, 2.0, 1.5,
    1.5, 2.8, 3.8, 3.9, 4.0, 4.1, 2.8, 1.8, 1.5, 0.8,
    0.3, 0.3, 0.8, 1.8, 1.5, 2.0, 3.2, 3.0, 2.8, 2.2,
    1.8, 1.5, 1.5, 1.2, 1.0, 1.8, 1.5, 1.5, 3.0, 3.0,
    2.9, 3.0, 2.8, 2.0, 1.8, 1.5, 0.5,
]

tick_dates = pd.date_range("2012-06-25", "2013-05-11", freq="20D")

BLUE = "#0000ff"
RED = "#f26868"
LW = 1.45
FS = 27


def to_dates(days):
    return START + pd.to_timedelta(np.asarray(days, dtype=float), unit="D")


def twice_daily(am, pm):
    """interleave the two readings of each sample day"""
    days = np.column_stack([sample_days, sample_days + 0.5]).ravel()
    vals = np.column_stack([am, pm]).ravel()
    return to_dates(days), vals


def style_axis(ax, ymax, yticks, show_xlabels):
    ax.set_xlim(to_dates([0])[0], to_dates([324])[0])
    ax.set_ylim(0, ymax)
    ax.set_yticks(yticks)
    ax.set_xticks(tick_dates)
    ax.xaxis.set_major_formatter(mdates.DateFormatter("%m/%d"))
    ax.grid(True, color="k", linestyle=(0, (1.5, 8)), linewidth=1.2)
    ax.spines["top"].set_visible(False)
    ax.spines["right"].set_visible(False)
    ax.spines["left"].set_linewidth(1.8)
    ax.spines["bottom"].set_linewidth(1.8)
    ax.tick_params(direction="out", length=13, width=1.6, labelsize=FS, pad=7)
    ax.tick_params(axis="x", pad=10)
    ax.tick_params(labelbottom=show_xlabels)
    ax.set_ylabel("RHg (pg/m$^{\\mathrm{3}}$)", fontsize=28, labelpad=12)


def add_legend(ax):
    leg = ax.legend(loc="upper left", bbox_to_anchor=(0.0107, 0.937),
                    borderaxespad=0, fontsize=28, frameon=True, fancybox=False,
                    framealpha=1, handlelength=3.7, handletextpad=0.3,
                    labelspacing=0.28, borderpad=0.3)
    leg.get_frame().set_edgecolor("k")
    leg.get_frame().set_linewidth(1.5)


fig = plt.figure(figsize=(19.77, 11.18), dpi=100)
ax1 = fig.add_axes([0.0875, 0.7066, 0.8988, 0.2683])
ax2 = fig.add_axes([0.0875, 0.4088, 0.8988, 0.2683])
ax3 = fig.add_axes([0.0875, 0.1100, 0.8988, 0.2683])

# ----- panel 1 -----
ax1.plot(*twice_daily(measurements, measurements_pm), color=BLUE, lw=LW,
         label="Measurements")
ax1.plot(*twice_daily(inverse, inverse_pm), color=RED, lw=LW, label="Inverse")
ax1.plot(to_dates(excluded_day), excluded_val, "o", ms=18, mfc="none",
         mec="k", mew=1.5, clip_on=False, zorder=3, label="Excluded")
style_axis(ax1, 100, [0, 50, 100], False)
add_legend(ax1)

# ----- panel 2 -----
ax2.plot(*twice_daily(grid_emissions, grid_emissions_pm), color=BLUE, lw=LW,
         label="Grid Emissions")
ax2.plot(to_dates(sample_days), fires_lake, color=RED, lw=LW,
         label="Fires + Lake")
style_axis(ax2, 40, [0, 20, 40], False)
add_legend(ax2)

# ----- panel 3 -----
ax3.plot(*twice_daily(so2_pm25, so2_pm25_pm), color=BLUE, lw=LW,
         label="SO2+PM2.5")
ax3.plot(*twice_daily(gem_oxidation, gem_oxidation_pm), color=RED, lw=LW,
         label="GEM Oxidation")
ax3.plot(*twice_daily(free_trop, free_trop_pm), color="k", lw=LW,
         label="Free Trop.")
style_axis(ax3, 20, [0, 10, 20], True)
ax3.set_xlabel("Date", fontsize=31, labelpad=10)
add_legend(ax3)

fig.savefig("out.png", dpi=100)
